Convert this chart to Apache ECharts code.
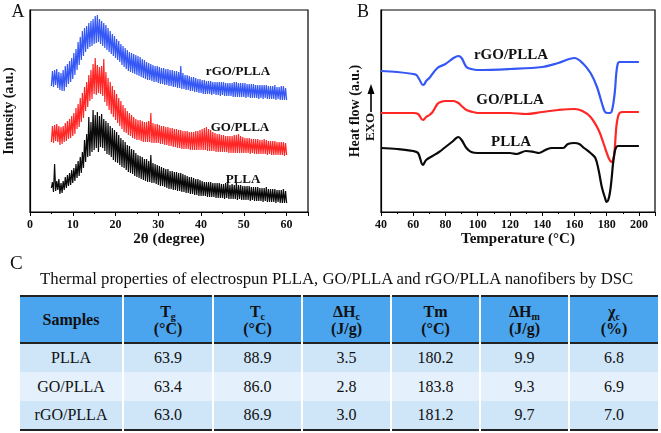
<!DOCTYPE html>
<html><head><meta charset="utf-8">
<script src="https://cdn.jsdelivr.net/npm/echarts@6/dist/echarts.min.js"></script>
<style>
html,body{margin:0;padding:0;background:#fff;}
#chart{position:absolute;left:0;top:0;width:661px;height:433px;}
.serif{font-family:"Liberation Serif","Times New Roman",serif;color:#111;}
#plabel{position:absolute;left:10px;top:252px;font-size:19px;}
#caption{position:absolute;left:40px;top:270px;font-size:16.8px;white-space:nowrap;line-height:18px;}
#tbl{position:absolute;left:20px;top:295px;border-collapse:collapse;table-layout:fixed;font-size:16px;}
#tbl td,#tbl th{padding:0;text-align:center;border-left:2px solid #fff;border-right:2px solid #fff;}
#tbl td:first-child,#tbl th:first-child{border-left:none;}
#tbl td:last-child,#tbl th:last-child{border-right:none;}
#tbl thead tr{background:#4ba4ee;height:47px;border-top:2px solid #222;border-bottom:2px solid #222;}
#tbl th{font-weight:bold;line-height:17px;}
#tbl th sub{font-size:10px;vertical-align:-3px;line-height:0;}
#tbl tbody tr{height:29px;}
#tbl tbody tr.odd{background:#cfe5f8;}
#tbl tbody tr.even{background:#e4f0fb;}
#tbl tbody tr:last-child{border-bottom:2px solid #222;}
</style></head>
<body>
<div id="chart"></div>
<div id="plabel" class="serif">C</div>
<div id="caption" class="serif"></div>
<table id="tbl" class="serif"><colgroup></colgroup><thead></thead><tbody></tbody></table>
<script>
// ---------- Panel A: XRD ----------
const xrdAngles = [5,5.25,5.5,5.75,6,6.25,6.5,6.75,7,7.25,7.5,7.75,8,8.25,8.5,8.75,9,9.25,9.5,9.75,10,10.25,10.5,10.75,11,11.25,11.5,11.75,12,12.25,12.5,12.75,13,13.25,13.5,13.75,14,14.25,14.5,14.75,15,15.25,15.5,15.75,16,16.25,16.5,16.75,17,17.25,17.5,17.75,18,18.25,18.5,18.75,19,19.25,19.5,19.75,20,20.25,20.5,20.75,21,21.25,21.5,21.75,22,22.25,22.5,22.75,23,23.25,23.5,23.75,24,24.25,24.5,24.75,25,25.25,25.5,25.75,26,26.25,26.5,26.75,27,27.25,27.5,27.75,28,28.25,28.5,28.75,29,29.25,29.5,29.75,30,30.25,30.5,30.75,31,31.25,31.5,31.75,32,32.25,32.5,32.75,33,33.25,33.5,33.75,34,34.25,34.5,34.75,35,35.25,35.5,35.75,36,36.25,36.5,36.75,37,37.25,37.5,37.75,38,38.25,38.5,38.75,39,39.25,39.5,39.75,40,40.25,40.5,40.75,41,41.25,41.5,41.75,42,42.25,42.5,42.75,43,43.25,43.5,43.75,44,44.25,44.5,44.75,45,45.25,45.5,45.75,46,46.25,46.5,46.75,47,47.25,47.5,47.75,48,48.25,48.5,48.75,49,49.25,49.5,49.75,50,50.25,50.5,50.75,51,51.25,51.5,51.75,52,52.25,52.5,52.75,53,53.25,53.5,53.75,54,54.25,54.5,54.75,55,55.25,55.5,55.75,56,56.25,56.5,56.75,57,57.25,57.5,57.75,58,58.25,58.5,58.75,59,59.25,59.5,59.75,60];
const xrdPLLA = [24,30,20,48, 21,31,22,33, 18,29,19,31, 22,35,24,37, 26,39,27,42, 29,44,31,48, 34,51,36,55, 39,60,44,72, 50,78,55,95, 56,90,60,102, 62,97,64,100, 60,96,65,98, 64,93,61,91, 58,89,57,86, 55,84,52,82, 50,80,49,77, 47,74,45,72, 44,70,42,67, 40,66,39,63, 38,62,36,59, 35,57,34,56, 33,55,32,53, 31,53,30,51, 30,57,29,49, 29,48,28,47, 27,46,26,45, 26,44,25,43, 24,43,23,41, 23,41,22,40, 22,40,21,39, 21,39,20,38, 20,37,19,36, 19,35,18,35, 18,34,17,33, 17,33,16,32, 16,31,16,30, 16,30,15,30, 15,30,15,29, 15,29,14,29, 14,29,14,28, 14,28,13,29, 14,30,13,27, 13,28,13,27, 13,29,12,27, 13,27,12,26, 12,26,12,26, 12,26,11,25, 12,25,11,25, 11,25,11,24, 11,24,10,24, 11,25,10,23, 10,23,10,23, 10,23,9,22, 10,22,9,22, 9,23,9,21, 9];
const xrdGO = [70,86,69,87, 71,88,70,86, 67,85,68,86, 70,89,71,91, 73,93,74,96, 76,99,78,104, 83,108,85,114, 90,119,94,125, 101,130,105,137, 111,142,113,148, 118,154,117,147, 119,145,118,146, 116,153,110,140, 106,134,102,130, 98,126,95,122, 92,118,89,114, 86,111,83,107, 80,104,79,101, 77,99,76,97, 74,95,73,93, 72,92,72,92, 71,91,70,90, 70,90,70,91, 70,99,69,89, 69,88,69,88, 69,87,68,86, 68,86,67,85, 67,85,66,84, 66,84,65,83, 65,83,64,82, 64,82,63,81, 63,81,63,81, 63,80,62,80, 62,80,62,81, 62,81,62,82, 62,83,62,84, 62,85,61,83, 61,82,61,80, 61,79,60,78, 60,78,60,77, 60,77,60,76, 60,76,59,76, 59,76,59,77, 59,77,59,78, 59,76,59,75, 59,74,59,74, 59,74,58,73, 59,73,58,73, 58,73,58,72, 58,72,58,73, 58,72,57,71, 58,71,57,71, 57,71,57,70, 57,70,57,70, 57,70,56,69, 57];
const xrdRGO = [126,141,125,142, 127,143,124,140, 122,139,121,142, 121,146,125,148, 128,151,130,154, 133,159,137,163, 142,170,147,175, 152,181,156,184, 160,186,163,189, 165,191,166,193, 168,196,169,197, 170,193,168,191, 166,189,164,187, 162,184,160,181, 158,178,156,176, 154,173,152,171, 150,168,147,166, 145,164,143,162, 141,160,140,159, 139,158,138,157, 137,156,136,155, 135,153,134,152, 133,150,132,149, 132,148,131,147, 130,146,130,146, 129,145,128,144, 128,144,127,143, 127,143,126,142, 126,142,125,141, 125,141,124,140, 124,146,123,139, 123,137,122,137, 122,136,121,135, 121,135,120,134, 120,133,119,133, 119,132,118,132, 118,131,118,131, 118,131,117,130, 118,130,117,130, 117,130,116,130, 117,130,116,129, 116,129,116,129, 116,129,115,130, 115,130,115,129, 115,129,115,129, 115,129,114,128, 115,128,114,128, 114,128,114,127, 114,127,113,127, 114,127,113,127, 114,127,113,126, 113,126,113,126, 113,127,112,125, 113,125,112,126, 112,126,112,124, 112];

// ---------- Panel B: DSC ----------
const dscRGOTemp = [40,50,60,62,64,66,67,68,70,75,80,85,88,90,93,96,100,120,140,150,160,165,170,174,177,179,181,183,185,186,187,188,200];
const dscRGOFlow = [141,140,138,137,132,127,128,131,134,144,148,154,156,154,145,143,142,143,145,149,154,149,139,125,109,100,99,100,119,139,149,150,150];
const dscGOTemp = [40,50,60,63,66,68,70,72,75,77,80,85,88,90,93,97,100,120,130,140,150,160,165,170,175,178,181,183,184.5,186,187,188,190,200];
const dscGOFlow = [99,99,99,98,92,95,97,100,108,110,111,111,109,106,102,100,99,99,98,100,102,103,101,95,82,69,55,50,55,85,95,99,100,100];
const dscPLLATemp = [40,50,60,63,66,68,72,76,80,84,88,90,93,96,100,110,120,124,130,135,138,142,146,150,153,156,160,163,166,170,173,175,177,179,180,181,182,183,184,185,186,187,200];
const dscPLLAFlow = [64,63,61,59,47,52,56,60,65,70,75,72,64,60,59,59,59,58,61,60,59,62,64,64,64,68,69,68,64,59,54,42,25,14,10,12,19,32,49,60,65,66,66];

// ---------- Panel C: table ----------
const tableCaption = "Thermal properties of electrospun PLLA, GO/PLLA and rGO/PLLA nanofibers by DSC";
const headMain = ["Samples","T","T","ΔH","Tm","ΔH","χ"];
const headSub  = ["","g","c","c","","m","c"];
const headUnit = ["","(°C)","(°C)","(J/g)","(°C)","(J/g)","(%)"];
const samples = ["PLLA","GO/PLLA","rGO/PLLA"];
const Tg  = [63.9,63.4,63.0];
const Tc  = [88.9,86.0,86.9];
const dHc = [3.5,2.8,3.0];
const Tm  = [180.2,183.8,181.2];
const dHm = [9.9,9.3,9.7];
const Xc  = [6.8,6.9,7.0];

// ---- build table ----
const colW = [103,90,89,89,89,89,89];
document.getElementById('caption').textContent = tableCaption;
const tbl = document.getElementById('tbl');
tbl.querySelector('colgroup').innerHTML = colW.map(w=>`<col style="width:${w}px">`).join('');
tbl.style.width = colW.reduce((a,b)=>a+b,0)+'px';
tbl.querySelector('thead').innerHTML = '<tr>' + headMain.map((m,i)=>{
  if(!headUnit[i]) return `<th>${m}</th>`;
  return `<th>${m}${headSub[i]?'<sub>'+headSub[i]+'</sub>':''}<br>${headUnit[i]}</th>`;
}).join('') + '</tr>';
tbl.querySelector('tbody').innerHTML = samples.map((s,r)=>{
  const vals=[Tg[r],Tc[r],dHc[r],Tm[r],dHm[r],Xc[r]].map(v=>v.toFixed(1));
  return `<tr class="${r%2===0?'odd':'even'}"><td>${s}</td>${vals.map(v=>`<td>${v}</td>`).join('')}</tr>`;
}).join('');

// ---- chart ----
const FONT = '"Liberation Serif","Times New Roman",serif';
const BLUE = '#3457f5', RED = '#ff2626', BLACK = '#0a0a0a';
const chart = echarts.init(document.getElementById('chart'), null, {renderer:'canvas'});
function xAxisCfg(idx, min, max, interval, name){
  return {
    type:'value', gridIndex:idx, min:min, max:max, interval:interval,
    name:name, nameLocation:'middle', nameGap:19,
    nameTextStyle:{fontFamily:FONT, fontWeight:'bold', fontSize:15, color:'#111'},
    axisLine:{lineStyle:{color:'#000', width:1.2}},
    axisTick:{show:true, length:4, lineStyle:{color:'#000', width:1}},
    minorTick:{show:true, splitNumber:2, length:2, lineStyle:{color:'#000', width:1}},
    axisLabel:{fontFamily:FONT, fontWeight:'bold', fontSize:12, color:'#111', margin:7, showMaxLabel:false,
      formatter:v=>String(v)},
    splitLine:{show:false}
  };
}
function yAxisCfg(idx, name, gap){
  return {
    type:'value', gridIndex:idx, min:0, max:202,
    name:name, nameLocation:'middle', nameGap:gap, nameRotate:90,
    nameTextStyle:{fontFamily:FONT, fontWeight:'bold', fontSize:14, color:'#111'},
    axisLine:{show:true, lineStyle:{color:'#000', width:1.2}},
    axisTick:{show:false}, axisLabel:{show:false}, splitLine:{show:false}
  };
}
const pair = (xs, ys) => xs.map((x,i)=>[x, ys[i]]);
function xrdSeries(vals, color){
  return {type:'line', xAxisIndex:0, yAxisIndex:0, data:pair(xrdAngles, vals), showSymbol:false,
    lineStyle:{color:color, width:1.2}, itemStyle:{color:color}, silent:true, animation:false};
}
function dscSeries(xs, ys, color){
  return {type:'line', xAxisIndex:1, yAxisIndex:1, data:pair(xs, ys), showSymbol:false, smooth:0.35,
    lineStyle:{color:color, width:2.2}, itemStyle:{color:color}, silent:true, animation:false};
}
function txt(x, y, s, size, bold, extra){
  return Object.assign({type:'text', x:x, y:y, style:{text:s, font:(bold?'bold ':'')+size+'px '+FONT,
    fill:'#111', align:'center', verticalAlign:'middle'}}, extra||{});
}
chart.setOption({
  animation:false,
  backgroundColor:'#fff',
  grid:[
    {left:30, top:10, width:278, height:202, show:true, borderColor:'#000', borderWidth:1.2},
    {left:381, top:10, width:274, height:202, show:true, borderColor:'#000', borderWidth:1.2}
  ],
  xAxis:[ xAxisCfg(0, 0, 65, 10, '2θ (degree)'), xAxisCfg(1, 40, 210, 20, 'Temperature (°C)') ],
  yAxis:[ yAxisCfg(0, 'Intensity (a.u.)', 14), yAxisCfg(1, 'Heat flow (a.u.)', 19) ],
  series:[
    xrdSeries(xrdRGO, BLUE), xrdSeries(xrdGO, RED), xrdSeries(xrdPLLA, BLACK),
    dscSeries(dscRGOTemp, dscRGOFlow, BLUE), dscSeries(dscGOTemp, dscGOFlow, RED), dscSeries(dscPLLATemp, dscPLLAFlow, BLACK)
  ],
  graphic:[
    txt(18, 12, 'A', 18, false),
    txt(363, 12, 'B', 18, false),
    txt(238, 72, 'rGO/PLLA', 13, true),
    txt(240, 128, 'GO/PLLA', 13, true),
    txt(243, 180, 'PLLA', 13, true),
    txt(511, 55, 'rGO/PLLA', 15, true),
    txt(510, 100, 'GO/PLLA', 15, true),
    txt(511, 142, 'PLLA', 15, true),
    txt(371, 127, 'EXO', 13, true, {rotation:Math.PI/2}),
    {type:'line', shape:{x1:371, y1:112, x2:371, y2:92}, style:{stroke:'#000', lineWidth:1.6}},
    {type:'polygon', shape:{points:[[371,84],[367.5,94],[374.5,94]]}, style:{fill:'#000'}}
  ]
});
</script>
</body></html>
